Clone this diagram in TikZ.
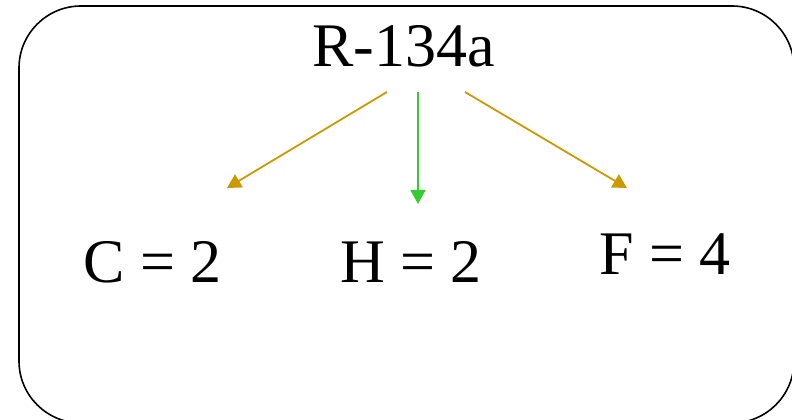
\documentclass[tikz,border=0pt]{standalone}
\usepackage{fontspec}
\setmainfont{Liberation Serif}
\usepackage{xcolor}
\usetikzlibrary{arrows.meta,calc}

\definecolor{oro}{RGB}{204,153,0}
\definecolor{verde}{RGB}{51,204,51}

\begin{document}
\begin{tikzpicture}[
      x=1pt, y=1pt,
      font=\fontsize{62}{70}\selectfont,
      elem/.style={anchor=base, inner sep=0pt, outer sep=0pt},
      marco/.style={draw, line width=1.6pt, rounded corners=62pt},
      flecha/.style={-{Triangle[length=14pt,width=15pt]}, line width=1.8pt, oro},
      flechav/.style={flecha, verde}]
    \useasboundingbox (0,0) rectangle (792,420);
    \begin{scope}
      \clip (0,0) rectangle (792,420);
      \draw[marco] (19,-3) rectangle (794,414);
    \end{scope}
    \node[elem] (r134) at (403.5,353) {R-134a};
    \node[elem] (c) at (152.5,137) {C = 2};
    \node[elem] (h) at (411,137) {H = 2};
    \node[elem] (f) at (665,145) {F = 4};
    % puntos de salida y de llegada
    \coordinate (sc) at ($(r134.base)+(-16.5,-25)$);
    \coordinate (sh) at ($(r134.base)+(14.5,-25)$);
    \coordinate (sf) at ($(r134.base)+(61.5,-25)$);
    \coordinate (lc) at ($(c.base)+(74.5,95)$);
    \coordinate (lh) at ($(h.base)+(7,79)$);
    \coordinate (lf) at ($(f.base)+(-38,87)$);
    \draw[flecha] (sc) -- (lc);
    \draw[flechav] (sh) -- (lh);
    \draw[flecha] (sf) -- (lf);
  \end{tikzpicture}
\end{document}
